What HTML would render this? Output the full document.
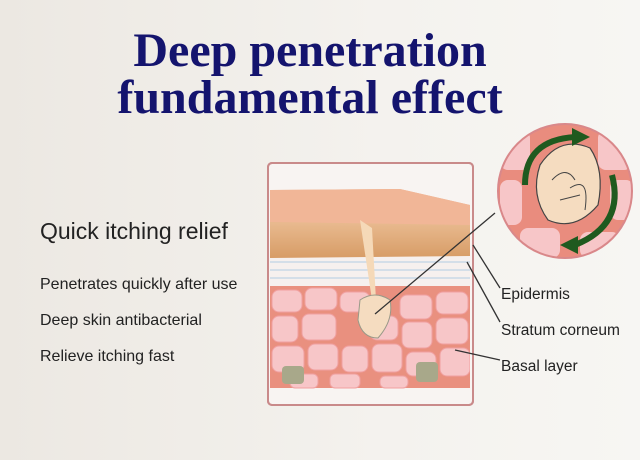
<!DOCTYPE html>
<html><head><meta charset="utf-8"><style>
html,body{margin:0;padding:0;}
body{width:640px;height:460px;overflow:hidden;background:linear-gradient(90deg,#ece8e2,#f4f2ee 60%,#f7f6f3);}
</style></head><body>
<svg width="640" height="460" xmlns="http://www.w3.org/2000/svg" style="position:absolute;left:0;top:0">
<defs>
<linearGradient id="tan" x1="0" y1="0" x2="0" y2="1"><stop offset="0" stop-color="#f0b896"/><stop offset="0.5" stop-color="#e8b98e"/><stop offset="1" stop-color="#d79c66"/></linearGradient>
<clipPath id="cc"><circle cx="565" cy="191" r="67"/></clipPath>
<clipPath id="bx"><rect x="270" y="170" width="200" height="220"/></clipPath>
</defs>
<text x="310" y="66" font-family="Liberation Serif,serif" font-weight="bold" font-size="48" fill="#14146e" text-anchor="middle">Deep penetration</text>
<text x="310" y="113" font-family="Liberation Serif,serif" font-weight="bold" font-size="48" fill="#14146e" text-anchor="middle">fundamental effect</text>
<g font-family="Liberation Sans,sans-serif" fill="#222">
<text x="40" y="239" font-size="23">Quick itching relief</text>
<text x="40" y="289" font-size="16">Penetrates quickly after use</text>
<text x="40" y="325" font-size="16">Deep skin antibacterial</text>
<text x="40" y="361" font-size="16">Relieve itching fast</text>
<text x="501" y="299" font-size="15.5">Epidermis</text>
<text x="501" y="335" font-size="15.5">Stratum corneum</text>
<text x="501" y="371" font-size="15.5">Basal layer</text>
</g>
<rect x="268" y="163" width="205" height="242" rx="4" fill="#f8f4f2" stroke="#c98a8a" stroke-width="2"/>
<g clip-path="url(#bx)">
<rect x="270" y="262" width="200" height="126" fill="#e9907f"/>
<g fill="#f7c6c8" stroke="#f0a0a0" stroke-width="1">
<rect x="272" y="290" width="30" height="22" rx="7"/><rect x="305" y="288" width="32" height="22" rx="7"/><rect x="340" y="292" width="30" height="20" rx="7"/><rect x="400" y="295" width="32" height="24" rx="7"/><rect x="436" y="292" width="32" height="22" rx="7"/>
<rect x="272" y="316" width="26" height="26" rx="7"/><rect x="302" y="314" width="34" height="26" rx="7"/><rect x="370" y="316" width="28" height="24" rx="7"/><rect x="402" y="322" width="30" height="26" rx="7"/><rect x="436" y="318" width="32" height="26" rx="7"/>
<rect x="272" y="346" width="32" height="26" rx="7"/><rect x="308" y="344" width="30" height="26" rx="7"/><rect x="342" y="346" width="26" height="26" rx="7"/><rect x="372" y="344" width="30" height="28" rx="7"/><rect x="406" y="352" width="30" height="24" rx="7"/><rect x="440" y="348" width="30" height="28" rx="7"/>
<rect x="290" y="374" width="28" height="14" rx="5"/><rect x="330" y="374" width="30" height="14" rx="5"/><rect x="380" y="376" width="28" height="12" rx="5"/>
</g>
<rect x="282" y="366" width="22" height="18" rx="4" fill="#a8a88a"/><rect x="416" y="362" width="22" height="20" rx="4" fill="#a8a88a"/>
<rect x="270" y="256" width="200" height="30" fill="#f6f0ee"/>
<g stroke="#c8d8e6" stroke-width="1.5" fill="none"><path d="M270 262 H470 M270 270 H470 M270 278 H470"/></g>
<path d="M270 190 L400 189 L470 205 L470 256 L270 258 Z" fill="url(#tan)"/>
<path d="M270 190 L400 189 L470 205 L470 225 L270 222 Z" fill="#f1b697"/>
<path d="M360 220 L372 228 L376 300 L372 300 Z" fill="#f5d9b8"/>
<path d="M360 300 Q375 290 390 300 Q394 320 378 338 Q362 338 358 320 Z" fill="#f5dcc0" stroke="#998" stroke-width="1"/>
</g>
<rect x="268" y="163" width="205" height="242" rx="4" fill="none" stroke="#c98a8a" stroke-width="2"/>
<g stroke="#333" stroke-width="1.3" fill="none">
<line x1="375" y1="314" x2="495" y2="213"/>
<line x1="473" y1="245" x2="500" y2="288"/>
<line x1="467" y1="262" x2="500" y2="322"/>
<line x1="455" y1="350" x2="500" y2="360"/>
</g>
<g clip-path="url(#cc)">
<rect x="495" y="120" width="140" height="140" fill="#e98c7e"/>
<g fill="#f7c6c8">
<rect x="500" y="130" width="30" height="40" rx="8"/><rect x="598" y="130" width="34" height="40" rx="8"/><rect x="500" y="180" width="22" height="45" rx="8"/><rect x="610" y="180" width="24" height="40" rx="8"/><rect x="520" y="228" width="40" height="30" rx="8"/><rect x="580" y="232" width="40" height="26" rx="8"/>
</g>
<path d="M540 165 Q560 135 590 148 Q605 170 598 205 Q575 232 548 220 Q530 195 540 165 Z" fill="#f5dcc0" stroke="#444" stroke-width="1.2"/>
<path d="M552 180 Q566 165 575 180 M560 200 L580 195 M570 188 Q590 175 585 210" stroke="#444" fill="none"/>
</g>
<circle cx="565" cy="191" r="67" fill="none" stroke="#d9888a" stroke-width="2"/>
<g stroke="#1f5a1f" stroke-width="6" fill="none">
<path d="M525 185 Q525 140 575 137"/>
<path d="M612 175 Q625 225 575 245"/>
</g>
<polygon points="572,128 590,137 572,146" fill="#1f5a1f"/>
<polygon points="578,236 560,245 578,254" fill="#1f5a1f"/>
</svg>
</body></html>
